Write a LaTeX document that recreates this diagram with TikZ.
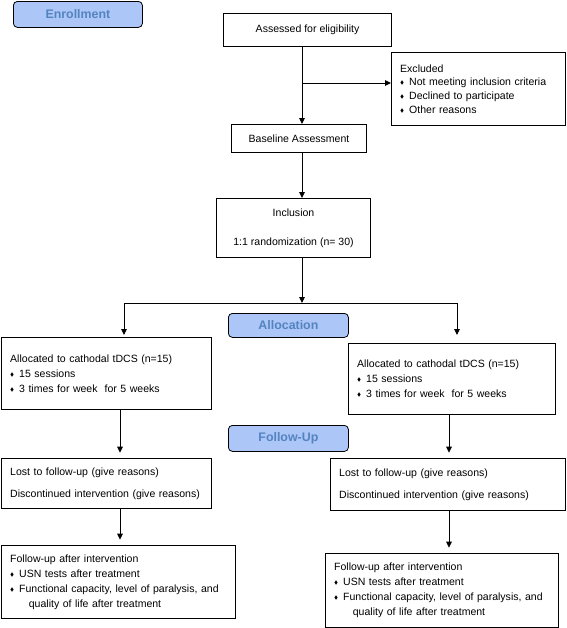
\documentclass[tikz,border=0pt]{standalone}
\usepackage{fontspec}
\setmainfont{Liberation Sans}
\usepackage{amssymb}
\usetikzlibrary{arrows.meta, positioning}
\definecolor{phaseFill}{RGB}{172,198,248}
\definecolor{phaseText}{RGB}{84,132,192}
\newcommand{\bl}{\makebox[6.75pt][l]{\raisebox{0.2ex}{\scalebox{0.5}{$\blacklozenge$}}}}
\tikzset{
  fc/phase/.style={rectangle, rounded corners=3pt, draw=black, fill=phaseFill,
    line width=0.6pt, minimum width=90pt, minimum height=19.5pt, inner sep=0pt,
    font=\fontsize{9.3}{11}\selectfont\bfseries\color{phaseText}},
  fc/box/.style={rectangle, draw=black, fill=white, line width=0.8pt,
    font=\fontsize{7.9}{9.5}\selectfont, align=center, inner sep=0pt},
  fc/list/.style={fc/box, align=left, inner xsep=6.5pt, inner ysep=0pt},
  fc/arr/.style={-{Triangle[length=4.5pt,width=4.2pt]}, line width=0.6pt},
  fc/line/.style={line width=0.6pt}
}

\begin{document}
\begin{tikzpicture}[x=0.75pt, y=-0.75pt]
  \useasboundingbox (0,0) rectangle (567,628);

  % stage labels
  \node[fc/phase, anchor=north west, minimum width=96.75pt] (enroll) at (13,1) {Enrollment};
  \node[fc/phase, anchor=north west, minimum height=18pt] (alloc) at (228,313) {Allocation};
  \node[fc/phase, anchor=north west] (follow) at (228,425) {Follow-Up};

  % enrollment
  \node[fc/box, anchor=north west, minimum width=126pt, minimum height=24.75pt] (assess) at (223,13)
        {Assessed for eligibility};
  \node[fc/list, anchor=north west, text width=117.5pt, minimum height=54.75pt] (excl) at (391,52)
        {Excluded\\[0.75pt]
         \bl Not meeting inclusion criteria\\[0.75pt]
         \bl Declined to participate\\[0.75pt]
         \bl Other reasons};
  \node[fc/box, anchor=north west, minimum width=101.25pt, minimum height=21pt] (base) at (231,124)
        {Baseline Assessment};
  \node[fc/box, anchor=north west, minimum width=115.5pt, minimum height=44.25pt] (incl) at (216,198)
        {Inclusion\\[12.25pt]1:1 randomization (n= 30)};

  % allocation
  \node[fc/list, anchor=north west, text width=144.5pt, minimum height=54pt] (allocL) at (1,337)
        {Allocated to cathodal tDCS (n=15)\\[1.75pt]
         \bl 15 sessions\\[1.75pt]
         \bl 3 times for week\ \ for 5 weeks};
  \node[fc/list, anchor=north west, text width=142.25pt, minimum height=53.25pt] (allocR) at (348,343)
        {Allocated to cathodal tDCS (n=15)\\[1.75pt]
         \bl 15 sessions\\[1.75pt]
         \bl 3 times for week\ \ for 5 weeks};

  % follow-up
  \node[fc/list, anchor=north west, text width=144.5pt, minimum height=37.5pt] (lossL) at (1,458)
        {Lost to follow-up (give reasons)\\[7pt]
         Discontinued intervention (give reasons)};
  \node[fc/list, anchor=north west, text width=163.25pt, minimum height=39pt] (lossR) at (330,458)
        {Lost to follow-up (give reasons)\\[7pt]
         Discontinued intervention (give reasons)};
  \node[fc/list, anchor=north west, text width=162.5pt, minimum height=54.75pt] (finL) at (1,545)
        {Follow-up after intervention\\[1.75pt]
         \bl USN tests after treatment\\[1.75pt]
         \bl Functional capacity, level of paralysis, and\\[1.75pt]
         \hspace*{14pt}quality of life after treatment};
  \node[fc/list, anchor=north west, text width=161.75pt, minimum height=55.5pt] (finR) at (325,553)
        {Follow-up after intervention\\[1.75pt]
         \bl USN tests after treatment\\[1.75pt]
         \bl Functional capacity, level of paralysis, and\\[1.75pt]
         \hspace*{14pt}quality of life after treatment};

  % junction points
  \coordinate (spine) at (302,0);
  \coordinate (exj) at (302,83);
  \coordinate (split) at (302,303);
  \coordinate (splitL) at (124,303);
  \coordinate (splitR) at (457,303);
  \coordinate (colL) at (120,0);
  \coordinate (colR) at (449,0);

  \draw[fc/arr] (assess.south -| spine) -- (base.north -| spine);
  \draw[fc/arr] (exj) -- (exj -| excl.west);
  \draw[fc/arr] (base.south -| spine) -- (incl.north -| spine);
  \draw[fc/arr] (incl.south -| spine) -- (split);
  \draw[fc/line] (splitL) -- (splitR);
  \draw[fc/arr, shorten >=1.5pt] (splitL) -- (splitL |- allocL.north);
  \draw[fc/arr, shorten >=6pt] (splitR) -- (splitR |- allocR.north);
  \draw[fc/arr, shorten >=4pt] (allocL.south -| colL) -- (lossL.north -| colL);
  \draw[fc/arr, shorten >=4pt] (allocR.south -| colR) -- (lossR.north -| colR);
  \draw[fc/arr, shorten >=4pt] (lossL.south -| colL) -- (finL.north -| colL);
  \draw[fc/arr, shorten >=4pt] (lossR.south -| colR) -- (finR.north -| colR);
\end{tikzpicture}
\end{document}
